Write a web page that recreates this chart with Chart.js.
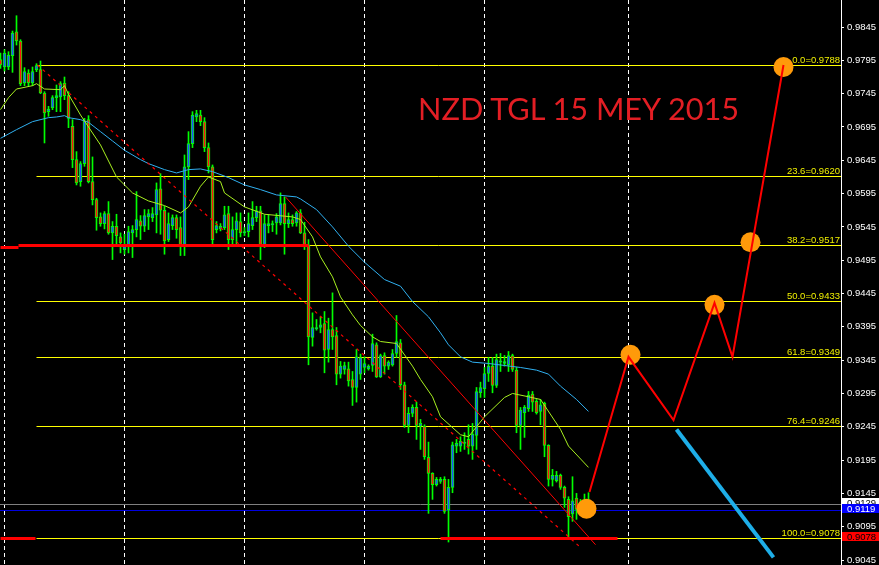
<!DOCTYPE html>
<html>
<head>
<meta charset="utf-8">
<script src="https://cdn.jsdelivr.net/npm/chart.js@4.4.1/dist/chart.umd.min.js"></script>
<style>
  html, body { margin:0; padding:0; background:#000; }
  #wrap { position:relative; width:879px; height:565px; overflow:hidden; }
  #title { position:absolute; left:418px; top:94px; font-family:Lato, "Open Sans", sans-serif; font-size:30.7px; line-height:1; color:#e31e24; white-space:nowrap; }
</style>
</head>
<body>
<div id="wrap">
  <canvas id="myChart" width="879" height="565"></canvas>
  <div id="title">NZD TGL 15 MEY 2015</div>
</div>
<script>
// hourly candles, one per bar index (0 = left edge)
var opens = [
  0.9796,0.9785,0.9785,0.9802,0.9838,0.9824,0.9761,0.9776,0.9761,0.9781,
  0.9781,0.9746,0.9718,0.9724,0.9739,0.9740,0.9761,0.9742,0.9696,0.9646,
  0.9613,0.9640,0.9706,0.9613,0.9586,0.9560,0.9550,0.9565,0.9536,0.9546,
  0.9530,0.9511,0.9517,0.9536,0.9541,0.9554,0.9546,0.9560,0.9559,0.9563,
  0.9602,0.9570,0.9526,0.9547,0.9559,0.9544,0.9518,0.9635,0.9670,0.9710,
  0.9713,0.9703,0.9664,0.9635,0.9541,0.9542,0.9544,0.9565,0.9526,0.9541,
  0.9553,0.9536,0.9538,0.9547,0.9559,0.9569,0.9516,0.9547,0.9548,0.9551,
  0.9551,0.9580,0.9550,0.9556,0.9551,0.9566,0.9536,0.9518,0.9379,0.9392,
  0.9394,0.9400,0.9361,0.9391,0.9382,0.9324,0.9331,0.9332,0.9316,0.9304,
  0.9324,0.9334,0.9332,0.9337,0.9368,0.9320,0.9352,0.9336,0.9338,0.9355,
  0.9371,0.9308,0.9247,0.9265,0.9274,0.9246,0.9246,0.9199,0.9175,0.9158,
  0.9163,0.9166,0.9120,0.9154,0.9216,0.9216,0.9220,0.9226,0.9216,0.9232,
  0.9296,0.9302,0.9325,0.9336,0.9307,0.9342,0.9340,0.9338,0.9352,0.9330,
  0.9247,0.9266,0.9272,0.9294,0.9283,0.9268,0.9280,0.9217,0.9166,0.9164,
  0.9172,0.9154,0.9136,0.9114,0.9138,0.9124,0.9126,0.9127
];
var highs = [
  0.9806,0.9811,0.9808,0.9839,0.9862,0.9826,0.9784,0.9781,0.9785,0.9790,
  0.9794,0.9748,0.9726,0.9742,0.9758,0.9763,0.9770,0.9748,0.9706,0.9658,
  0.9643,0.9708,0.9712,0.9650,0.9588,0.9566,0.9568,0.9583,0.9553,0.9564,
  0.9536,0.9534,0.9546,0.9547,0.9598,0.9562,0.9571,0.9571,0.9574,0.9611,
  0.9625,0.9576,0.9566,0.9563,0.9563,0.9560,0.9653,0.9688,0.9718,0.9720,
  0.9720,0.9709,0.9671,0.9638,0.9553,0.9550,0.9576,0.9576,0.9560,0.9566,
  0.9566,0.9544,0.9566,0.9583,0.9576,0.9576,0.9563,0.9563,0.9554,0.9565,
  0.9596,0.9590,0.9566,0.9563,0.9568,0.9571,0.9552,0.9526,0.9416,0.9406,
  0.9410,0.9418,0.9408,0.9446,0.9394,0.9343,0.9342,0.9342,0.9328,0.9361,
  0.9354,0.9350,0.9338,0.9384,0.9371,0.9354,0.9356,0.9344,0.9361,0.9412,
  0.9376,0.9312,0.9274,0.9278,0.9282,0.9256,0.9248,0.9222,0.9176,0.9169,
  0.9169,0.9170,0.9166,0.9222,0.9226,0.9230,0.9236,0.9248,0.9250,0.9304,
  0.9312,0.9334,0.9349,0.9349,0.9354,0.9355,0.9352,0.9358,0.9354,0.9334,
  0.9274,0.9277,0.9298,0.9298,0.9286,0.9286,0.9282,0.9218,0.9181,0.9178,
  0.9174,0.9156,0.9140,0.9170,0.9145,0.9136,0.9144,0.9146
];
var lows = [
  0.9783,0.9779,0.9781,0.9777,0.9818,0.9757,0.9757,0.9757,0.9757,0.9778,
  0.9745,0.9671,0.9711,0.9721,0.9718,0.9718,0.9736,0.9694,0.9634,0.9608,
  0.9606,0.9636,0.9611,0.9578,0.9540,0.9546,0.9542,0.9534,0.9496,0.9516,
  0.9506,0.9504,0.9506,0.9499,0.9530,0.9526,0.9538,0.9541,0.9553,0.9536,
  0.9534,0.9504,0.9523,0.9541,0.9528,0.9502,0.9502,0.9616,0.9664,0.9703,
  0.9697,0.9658,0.9626,0.9518,0.9536,0.9539,0.9541,0.9511,0.9516,0.9516,
  0.9530,0.9532,0.9530,0.9541,0.9553,0.9496,0.9514,0.9536,0.9538,0.9534,
  0.9548,0.9504,0.9544,0.9546,0.9546,0.9535,0.9511,0.9338,0.9366,0.9390,
  0.9386,0.9326,0.9342,0.9361,0.9308,0.9318,0.9324,0.9306,0.9277,0.9282,
  0.9316,0.9326,0.9330,0.9328,0.9319,0.9319,0.9324,0.9331,0.9336,0.9349,
  0.9301,0.9244,0.9236,0.9260,0.9226,0.9211,0.9196,0.9115,0.9136,0.9156,
  0.9160,0.9115,0.9072,0.9146,0.9206,0.9208,0.9211,0.9204,0.9196,0.9211,
  0.9289,0.9289,0.9313,0.9296,0.9304,0.9328,0.9336,0.9328,0.9328,0.9236,
  0.9211,0.9229,0.9268,0.9268,0.9264,0.9248,0.9200,0.9156,0.9156,0.9162,
  0.9151,0.9124,0.9079,0.9103,0.9106,0.9118,0.9121,0.9126
];
var closes = [
  0.9788,0.9806,0.9803,0.9836,0.9824,0.9760,0.9778,0.9761,0.9778,0.9787,
  0.9746,0.9716,0.9722,0.9739,0.9742,0.9760,0.9742,0.9708,0.9646,0.9611,
  0.9640,0.9704,0.9613,0.9586,0.9559,0.9550,0.9565,0.9536,0.9546,0.9532,
  0.9521,0.9516,0.9538,0.9541,0.9556,0.9546,0.9562,0.9565,0.9565,0.9601,
  0.9570,0.9524,0.9550,0.9559,0.9541,0.9518,0.9635,0.9670,0.9713,0.9715,
  0.9703,0.9664,0.9635,0.9526,0.9547,0.9546,0.9563,0.9526,0.9541,0.9554,
  0.9536,0.9538,0.9550,0.9559,0.9569,0.9516,0.9550,0.9550,0.9550,0.9560,
  0.9580,0.9550,0.9556,0.9550,0.9566,0.9536,0.9516,0.9380,0.9394,0.9394,
  0.9398,0.9360,0.9391,0.9380,0.9324,0.9336,0.9337,0.9314,0.9304,0.9350,
  0.9349,0.9340,0.9336,0.9370,0.9320,0.9352,0.9336,0.9342,0.9355,0.9373,
  0.9308,0.9247,0.9265,0.9274,0.9247,0.9250,0.9200,0.9175,0.9158,0.9166,
  0.9166,0.9118,0.9154,0.9218,0.9220,0.9223,0.9222,0.9216,0.9234,0.9298,
  0.9304,0.9325,0.9336,0.9307,0.9346,0.9344,0.9343,0.9352,0.9331,0.9247,
  0.9270,0.9274,0.9292,0.9282,0.9266,0.9278,0.9217,0.9166,0.9172,0.9172,
  0.9154,0.9138,0.9110,0.9134,0.9121,0.9131,0.9131,0.9131
];

// moving averages, read at some bars
var fastIdx = [0,2,4,8,9,11,15,16,17,20,25,29,33,37,41,45,47,50,52,55,56,61,66,73,75,78,80,83,85,88,90,93,95,99,103,105,108,110,115,117,121,126,128,132,135,140,142,147];
var fastMa = [0.9721,0.9739,0.9752,0.9757,0.9760,0.9752,0.9751,0.9757,0.9744,0.9713,0.9668,0.9620,0.9596,0.9584,0.9577,0.9566,0.9575,0.9606,0.9620,0.9613,0.9596,0.9575,0.9564,0.9560,0.9556,0.9530,0.9500,0.9470,0.9440,0.9413,0.9397,0.9380,0.9373,0.9370,0.9336,0.9316,0.9290,0.9260,0.9233,0.9230,0.9260,0.9289,0.9295,0.9290,0.9286,0.9241,0.9216,0.9184];
var slowIdx = [0,4,8,12,14,16,17,20,22,25,28,31,35,37,41,44,47,50,53,57,61,65,69,74,75,79,83,87,91,96,100,103,107,110,112,115,118,122,126,130,134,137,140,144,147];
var slowMa = [0.9678,0.9691,0.9703,0.9709,0.9710,0.9712,0.9709,0.9706,0.9702,0.9688,0.9674,0.9660,0.9646,0.9640,0.9631,0.9626,0.9631,0.9632,0.9628,0.9619,0.9608,0.9601,0.9593,0.9590,0.9587,0.9571,0.9545,0.9516,0.9492,0.9466,0.9456,0.9433,0.9410,0.9386,0.9368,0.9350,0.9342,0.9340,0.9337,0.9334,0.9330,0.9324,0.9306,0.9286,0.9268];

// fibonacci retracement
var fibNames = ["0.0","23.6","38.2","50.0","61.8","76.4","100.0"];
var fibLevels = [0.9788,0.9620,0.9517,0.9433,0.9349,0.9246,0.9078];
var fibFrom = 9;

// drawn objects
var pathIdx = [147.25,157,168.25,178.5,183,195.75];
var pathVals = [0.9147,0.9350,0.9255,0.9431,0.9350,0.9788];
var dotIdx = [146.5,157.5,178.5,187.5,195.75];
var dotVals = [0.9122,0.9353,0.9428,0.9522,0.9785];
var arrowIdx = [169,193.25];
var arrowVals = [0.9241,0.9049];
var chanIdx = [71.25,148.75];
var chanVals = [0.9590,0.9068];
var dashIdx = [9.25,145];
var dashVals = [0.9788,0.9064];
var resFrom = [0,4.5,0,110];
var resTo = [4.5,77,8.75,154.25];
var resVals = [0.9514,0.9517,0.9078,0.9078];

var askPrice = 0.9129;
var bidPrice = 0.9119;
var tickLabels = ["0.9845","0.9795","0.9745","0.9695","0.9645","0.9595","0.9545","0.9495","0.9445","0.9395","0.9345","0.9295","0.9245","0.9195","0.9145","0.9095","0.9045"];
var gridBars = [1,31,61,91,121,157];
var firstBar = -0.125;
var lastBar = 210.125;

function pts(xs, ys) {
  return xs.map(function(x, k) { return {x: x, y: ys[k]}; });
}
// flat line, snapped to the pixel grid when drawn
function seg(x1, x2, v, color, width, order) {
  return {type:'line', data:[{x:x1,y:v},{x:x2,y:v}], borderColor:color, borderWidth:width, pointRadius:0, fill:false, order:order, snap:true};
}

var wicks = [], bodies = [], bodyColors = [];
for (var i = 0; i < opens.length; i++) {
  wicks.push({x:i, y:[lows[i], highs[i]]});
  bodies.push({x:i, y:[opens[i], closes[i]]});
  bodyColors.push(closes[i] >= opens[i] ? '#1f4fff' : '#ff1010');
}

var sets = [
  {type:'bar', data:wicks, backgroundColor:'#00ff00', barThickness:1, grouped:false, order:20},
  {type:'bar', data:bodies, backgroundColor:bodyColors, borderColor:'#00ff00', borderWidth:1, borderSkipped:false, barThickness:3, minBarLength:1, grouped:false, order:19},
  {type:'line', data:pts(fastIdx, fastMa), borderColor:'#a8f020', borderWidth:1, pointRadius:0, fill:false, order:15},
  {type:'line', data:pts(slowIdx, slowMa), borderColor:'#30b0f0', borderWidth:1, pointRadius:0, fill:false, order:15},
  seg(firstBar, lastBar, askPrice, '#808080', 1, 24),
  seg(firstBar, lastBar, bidPrice, '#0000e0', 1, 24),
  {type:'line', data:pts(chanIdx, chanVals), borderColor:'#ff0000', borderWidth:1, pointRadius:0, fill:false, order:6},
  {type:'line', data:pts(dashIdx, dashVals), borderColor:'#ff0000', borderWidth:1.2, borderDash:[3,4], pointRadius:0, fill:false, order:6},
  {type:'scatter', data:pts(dotIdx, dotVals), pointRadius:10, pointHoverRadius:10, pointBackgroundColor:'#ff9a0a', pointBorderWidth:0, order:4},
  {type:'line', data:pts(pathIdx, pathVals), borderColor:'#ff0000', borderWidth:2, pointRadius:0, fill:false, order:2},
  {type:'line', data:pts(arrowIdx, arrowVals), borderColor:'#1eaee8', borderWidth:4, pointRadius:0, fill:false, order:2}
];
fibLevels.forEach(function(lv) { sets.push(seg(fibFrom, lastBar, lv, '#ffff00', 1, 25)); });
resVals.forEach(function(v, k) { sets.push(seg(resFrom[k], resTo[k], v, '#ff0000', 3, 5)); });

var snapLines = {
  id: 'snapLines',
  beforeDatasetDraw: function(chart, args) {
    var ds = chart.data.datasets[args.index];
    if (!ds.snap) return;
    var py = chart.scales.y.getPixelForValue(ds.data[0].y);
    chart.ctx.save();
    chart.ctx.translate(0, Math.floor(py) + 0.5 - py);
  },
  afterDatasetDraw: function(chart, args) {
    if (chart.data.datasets[args.index].snap) chart.ctx.restore();
  }
};

var textBits = {
  id: 'textBits',
  afterDatasetsDraw: function(chart) {
    var c = chart.ctx, y = chart.scales.y, right = chart.chartArea.right;
    c.save();
    c.font = '9.5px "Liberation Sans"';
    c.fillStyle = '#f0f000';
    c.textAlign = 'right';
    fibLevels.forEach(function(lv, k) {
      c.fillText(fibNames[k] + '=' + lv.toFixed(4), right - 1, Math.floor(y.getPixelForValue(lv)) - 2);
    });
    c.restore();
  },
  afterDraw: function(chart) {
    var c = chart.ctx, y = chart.scales.y, right = chart.chartArea.right;
    var boxes = [[askPrice,'#ffffff','#000000'],[bidPrice,'#0000ff','#ffffff'],[fibLevels[6],'#ff0000','#000000']];
    c.save();
    c.font = '9.5px "Liberation Sans"';
    c.textAlign = 'left';
    boxes.forEach(function(b) {
      var py = Math.floor(y.getPixelForValue(b[0]));
      c.fillStyle = b[1];
      c.fillRect(right + 1, py - 6, 37, 9);
      c.fillStyle = b[2];
      c.fillText(b[0].toFixed(4), right + 6, py + 2);
    });
    c.restore();
  }
};

var ctx = document.getElementById('myChart').getContext('2d');
var myChart = new Chart(ctx, {
  type: 'bar',
  data: { datasets: sets },
  options: {
    responsive: false,
    animation: false,
    devicePixelRatio: 1,
    layout: { padding: 0, autoPadding: false },
    plugins: { legend: {display:false}, tooltip: {enabled:false} },
    scales: {
      x: {
        type: 'linear', min: firstBar, max: lastBar, offset: false,
        afterBuildTicks: function(s) { s.ticks = gridBars.map(function(v) { return {value:v}; }); },
        afterFit: function(s) { s.height = 0; s.paddingLeft = 0; s.paddingRight = 0; },
        grid: { color:'#ffffff', lineWidth:1, drawTicks:false, offset:false },
        border: { display:false, dash:[4,3] },
        ticks: { display:false }
      },
      y: {
        type: 'linear', position: 'right', min: 0.90375, max: 0.98856,
        afterBuildTicks: function(s) { s.ticks = tickLabels.map(function(t) { return {value: parseFloat(t)}; }); },
        afterFit: function(s) { s.width = 38; s.paddingTop = 0; s.paddingBottom = 0; },
        grid: { drawOnChartArea:false, color:'#ffffff', tickLength:3 },
        border: { display:true, color:'#ffffff' },
        ticks: { color:'#ffffff', padding:3, font:{family:'Liberation Sans', size:9.5}, callback: function(v) { return v.toFixed(4); } }
      }
    }
  },
  plugins: [snapLines, textBits]
});
</script>
</body>
</html>
